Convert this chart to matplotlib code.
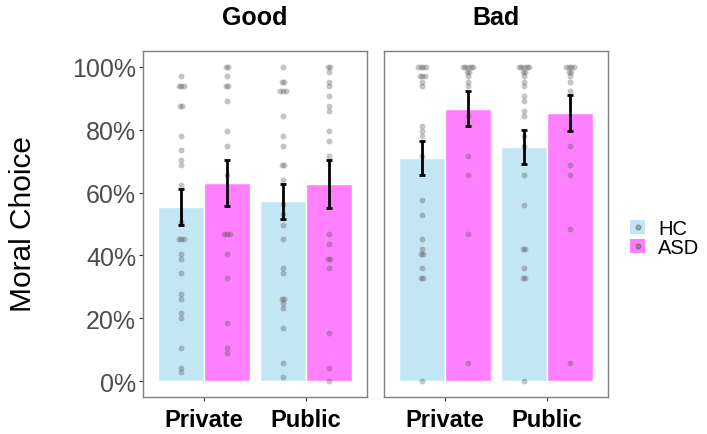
import numpy as np
import matplotlib
matplotlib.use("Agg")
import matplotlib.pyplot as plt
from matplotlib.patches import Patch
from matplotlib.lines import Line2D
from matplotlib.legend_handler import HandlerTuple

plt.rcParams["font.family"] = ["Liberation Sans", "DejaVu Sans"]

# conditions and groups
panels = ["Good", "Bad"]
contexts = ["Private", "Public"]
groups = ["HC", "ASD"]

# group means and standard errors: [panel][context][group]
means = [[[0.554, 0.631], [0.572, 0.627]],
         [[0.710, 0.866], [0.745, 0.853]]]
errors = [[[0.058, 0.073], [0.056, 0.077]],
          [[0.054, 0.056], [0.054, 0.056]]]

# individual participant proportions
good_private_hc = [0.969, 0.938, 0.938, 0.938, 0.874, 0.874, 0.781, 0.734, 0.703, 0.687,
                   0.625, 0.506, 0.451, 0.451, 0.451, 0.405, 0.389, 0.343, 0.279, 0.263,
                   0.216, 0.201, 0.107, 0.043, 0.030]
good_private_asd = [1.0, 1.0, 0.969, 0.938, 0.938, 0.890, 0.796, 0.748, 0.655, 0.467,
                    0.467, 0.467, 0.405, 0.327, 0.185, 0.107, 0.091]
good_public_hc = [1.0, 0.952, 0.952, 0.922, 0.922, 0.922, 0.842, 0.780, 0.748, 0.687,
                  0.687, 0.640, 0.563, 0.531, 0.498, 0.451, 0.359, 0.343, 0.263, 0.263,
                  0.248, 0.232, 0.170, 0.059, 0.013]
good_public_asd = [1.0, 1.0, 0.984, 0.952, 0.938, 0.906, 0.874, 0.858, 0.796, 0.764,
                   0.717, 0.467, 0.436, 0.389, 0.389, 0.359, 0.154, 0.043, 0.0]
bad_private_hc = [1.0, 1.0, 1.0, 1.0, 0.969, 0.969, 0.969, 0.952, 0.938, 0.812, 0.796,
                  0.780, 0.717, 0.577, 0.530, 0.451, 0.420, 0.405, 0.405, 0.359, 0.327,
                  0.327, 0.0]
bad_private_asd = [1.0, 1.0, 1.0, 1.0, 1.0, 0.984, 0.984, 0.969, 0.952, 0.938, 0.842,
                   0.717, 0.655, 0.467, 0.059]
bad_public_hc = [1.0, 1.0, 1.0, 1.0, 1.0, 0.984, 0.984, 0.969, 0.952, 0.938, 0.906,
                 0.890, 0.858, 0.842, 0.780, 0.748, 0.655, 0.561, 0.420, 0.420, 0.359,
                 0.327, 0.327, 0.0]
bad_public_asd = [1.0, 1.0, 1.0, 1.0, 0.984, 0.984, 0.969, 0.952, 0.922, 0.748, 0.687,
                  0.655, 0.483, 0.059]

points = [[[good_private_hc, good_private_asd], [good_public_hc, good_public_asd]],
          [[bad_private_hc, bad_private_asd], [bad_public_hc, bad_public_asd]]]

fills = ["#C3E6F5", "#FF80FF"]
dot_color = "#4d4d4d"
border = "#7f7f7f"

fig = plt.figure(figsize=(7.07, 4.35), dpi=100)
W, H = 707, 435
lefts = [143 / W, 384 / W]
bottom, width, height = 1 - 398 / H, 224 / W, 346 / H

bar_w = 0.45
for p, name in enumerate(panels):
    ax = fig.add_axes([lefts[p], bottom, width, height])
    for c in range(len(contexts)):
        for g in range(len(groups)):
            x = c + (g - 0.5) * bar_w
            ax.bar(x, means[p][c][g], width=bar_w, color=fills[g],
                   edgecolor="white", linewidth=1, zorder=1)
            vals = np.array(points[p][c][g])
            # spread repeated values sideways so they stay visible
            xs = np.full(len(vals), x)
            for v in np.unique(vals):
                idx = np.where(vals == v)[0]
                if len(idx) > 1:
                    xs[idx] += (np.arange(len(idx)) - (len(idx) - 1) / 2) * 0.025
            ax.scatter(xs, vals, s=18, color=dot_color, alpha=0.33,
                       linewidths=0, zorder=2)
            ax.errorbar(x, means[p][c][g], yerr=errors[p][c][g], color="black",
                        linewidth=2, capsize=2.5, capthick=2, zorder=3)
    ax.set_xlim(-0.6, 1.6)
    ax.set_ylim(-0.05, 1.05)
    ax.set_xticks(range(len(contexts)))
    ax.set_xticklabels(contexts, fontsize=17, fontweight="bold", color="black")
    ax.set_yticks(np.linspace(0, 1, 6))
    if p == 0:
        ax.set_yticklabels([f"{int(round(t * 100))}%" for t in np.linspace(0, 1, 6)],
                           fontsize=18, color="#4d4d4d")
        ax.tick_params(axis="y", length=3, color="#333333", width=0.8, pad=2)
    else:
        ax.tick_params(axis="y", left=False, labelleft=False)
    ax.tick_params(axis="x", length=3, color="#333333", width=0.8, pad=5)
    for s in ax.spines.values():
        s.set_color(border)
        s.set_linewidth(1)
    fig.text(lefts[p] + width / 2, 1 - 18 / H, name, fontsize=18,
             fontweight="bold", ha="center", va="center")

fig.text(23 / W, 1 - 224 / H, "Moral Choice", fontsize=21.5, rotation=90,
         ha="center", va="center")

handles = [(Patch(facecolor=fills[g], edgecolor="none"),
            Line2D([], [], marker="o", color=dot_color, alpha=0.4, ls="", markersize=3.5))
           for g in range(len(groups))]
fig.legend(handles, groups, handler_map={tuple: HandlerTuple(ndivide=1)},
           loc="center left", bbox_to_anchor=(630 / W, 1 - 239 / H),
           frameon=False, fontsize=14.5, handlelength=0.75, handleheight=0.75,
           handletextpad=0.65, labelspacing=0.0, borderpad=0, borderaxespad=0)

fig.savefig("out.png", dpi=100)
